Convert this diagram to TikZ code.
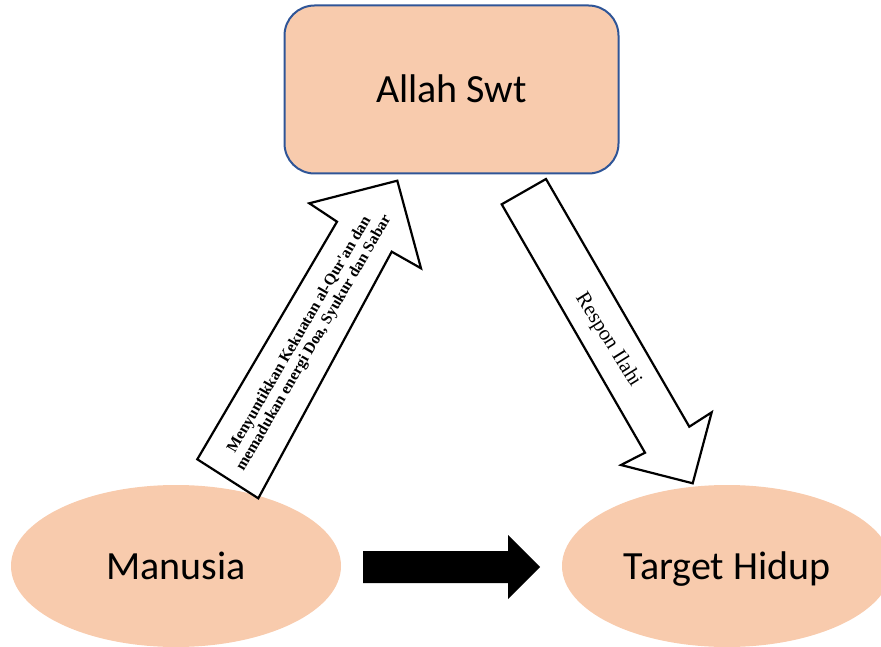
\documentclass[tikz,border=0pt]{standalone}
\usepackage{fontspec}
\newfontfamily\calibri{Carlito}
\newfontfamily\timesfont{Liberation Serif}
\usetikzlibrary{shapes.geometric}
\definecolor{peach}{HTML}{F8CBAD}
\definecolor{boxblue}{HTML}{2F5597}
\tikzset{
  bigtext/.style={font=\calibri\fontsize{40}{46}\selectfont, text height=26pt, text depth=0pt, inner sep=0pt},
  peachellipse/.style={ellipse, fill=peach, draw=none, minimum width=330pt, minimum height=162pt, bigtext},
  topbox/.style={rectangle, rounded corners=30pt, fill=peach, draw=boxblue, line width=2pt, minimum width=334pt, minimum height=168pt, bigtext},
  blockarrow/.style={draw=black, fill=white, line width=2.2pt, line join=miter},
  arrowlabel/.style={font=\timesfont, inner sep=0pt, align=center}
}
\begin{document}
\begin{tikzpicture}[x=1pt,y=-1pt]
\useasboundingbox (0,0) rectangle (881,647);
\clip (0,0) rectangle (881,647);
% nodes
\node[topbox] (allah) at (451.5,89.5) {Allah Swt};
\node[peachellipse] (manusia) at (176,566) {Manusia};
\node[peachellipse] (target) at (727,566) {Target Hidup};
% upward block arrow
\draw[blockarrow] (197.3,459.3) -- (337,221.7) -- (309.3,203.3) -- (397.3,180.7)
  -- (421,268.3) -- (391.7,251.7) -- (258.3,498.3) -- cycle;
\node[arrowlabel, rotate=59.8, font=\timesfont\bfseries\fontsize{15.8}{16.8}\selectfont] (up) at (307,339)
  {Menyuntikkan Kekuatan al-Qur'an dan\\memadukan energi Doa, Syukur dan Sabar};
% downward block arrow
\draw[blockarrow] (501.7,204.3) -- (546,179) -- (689.3,426.7) -- (711.7,412.3)
  -- (692.7,483.3) -- (621,465) -- (645,452.7) -- cycle;
\node[arrowlabel, rotate=-58, font=\timesfont\fontsize{21}{24}\selectfont] (down) at (608,340) {Respon Ilahi};
% black arrow between ellipses
\fill[black] (363,551) -- (508,551) -- (508,535) -- (540,567) -- (508,599) -- (508,583) -- (363,583) -- cycle;
\end{tikzpicture}
\end{document}
